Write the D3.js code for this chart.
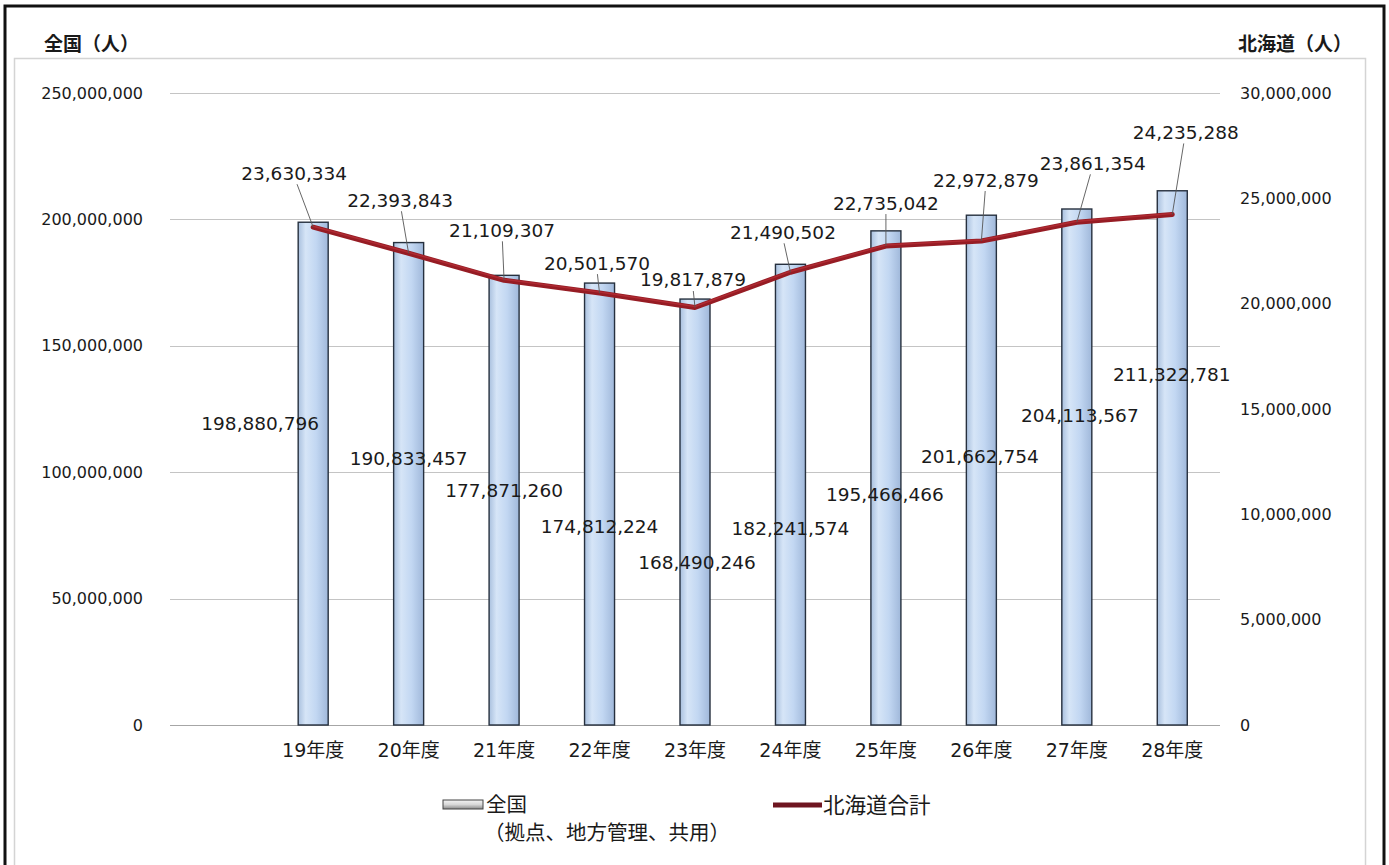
<!DOCTYPE html>
<html><head><meta charset="utf-8">
<script src="https://cdn.jsdelivr.net/npm/d3@7"></script>
<style>
html,body{margin:0;padding:0;background:#fff;}
svg{display:block;}
text{font-family:"DejaVu Sans","Noto Sans CJK JP",sans-serif;fill:#1a1a1a;}
.cjk{font-family:"Noto Sans CJK JP","DejaVu Sans",sans-serif;}
</style></head>
<body>
<svg id="chart" width="1389" height="865"></svg>
<script>
// ---- data ----
const categories = ["19年度","20年度","21年度","22年度","23年度","24年度","25年度","26年度","27年度","28年度"];
const national = [198880796,190833457,177871260,174812224,168490246,182241574,195466466,201662754,204113567,211322781];
const hokkaido = [23630334,22393843,21109307,20501570,19817879,21490502,22735042,22972879,23861354,24235288];
const leftTicks = [0,50000000,100000000,150000000,200000000,250000000];
const rightTicks = [0,5000000,10000000,15000000,20000000,25000000,30000000];
const leftTitle = "全国（人）";
const rightTitle = "北海道（人）";
const legendBar = ["全国","（拠点、地方管理、共用）"];
const legendLine = "北海道合計";

// label placement offsets (layout, px) relative to data point
const natLabelDx = [-53,0,0,0,2,0,-1,-1.5,3,-0.5];
const natLabelDy = [201,216,215,243,263,264,264,241,207,184];
const hokLabelDx = [-19,-8.5,-2,-2.5,-2,-7.5,0,4.5,16,13.5];
const hokLabelDy = [-54,-53,-50,-30,-27.5,-40,-43,-61,-59,-82];

const svg = d3.select("#chart");
const fmt = d3.format(",");

// frames
svg.append("rect").attr("x",5).attr("y",6).attr("width",1379).attr("height",870)
  .attr("fill","none").attr("stroke","#111").attr("stroke-width",3);
svg.append("rect").attr("x",14.5).attr("y",58.5).attr("width",1351).attr("height",820)
  .attr("fill","#fff").attr("stroke","#d4d4d4").attr("stroke-width",1.5);

const plotL = 170, plotR = 1220, yTop = 93, yBot = 725;
const x = d3.scaleBand().domain(["_blank", ...categories]).range([plotL, plotR]).padding(0);
const yL = d3.scaleLinear().domain([0,250000000]).range([yBot, yTop]);
const yR = d3.scaleLinear().domain([0,30000000]).range([yBot, yTop]);
const cx = c => x(c) + x.bandwidth()/2;

// gradients
const defs = svg.append("defs");
const g1 = defs.append("linearGradient").attr("id","barGrad").attr("x1","0").attr("x2","1").attr("y1","0").attr("y2","0");
[["0%","#a9c0de"],["25%","#d6e5f7"],["60%","#c2d7f2"],["100%","#a0b8da"]].forEach(s=>g1.append("stop").attr("offset",s[0]).attr("stop-color",s[1]));
const g2 = defs.append("linearGradient").attr("id","legGrad").attr("x1","0").attr("x2","0").attr("y1","0").attr("y2","1");
[["0%","#f4f4f4"],["50%","#d8d8d8"],["100%","#8a8a8a"]].forEach(s=>g2.append("stop").attr("offset",s[0]).attr("stop-color",s[1]));

// gridlines
svg.append("g").selectAll("line").data(leftTicks).join("line")
  .attr("x1",plotL).attr("x2",plotR)
  .attr("y1",d=>Math.round(yL(d))+0.5).attr("y2",d=>Math.round(yL(d))+0.5)
  .attr("stroke",d=>d===0?"#a6a6a6":"#c4c4c4").attr("stroke-width",1);

// left axis
const axL = d3.axisLeft(yL).tickValues(leftTicks).tickFormat(fmt).tickSize(0).tickPadding(0);
const gL = svg.append("g").attr("transform",`translate(143,0)`).call(axL);
gL.select(".domain").remove();
gL.selectAll("text").attr("font-size",16).attr("font-family","DejaVu Sans").attr("fill","#222");

// right axis
const axR = d3.axisRight(yR).tickValues(rightTicks).tickFormat(fmt).tickSize(0).tickPadding(0);
const gR = svg.append("g").attr("transform",`translate(1240,0)`).call(axR);
gR.select(".domain").remove();
gR.selectAll("text").attr("font-size",16).attr("font-family","DejaVu Sans").attr("fill","#222");

// bottom axis
const axB = d3.axisBottom(x).tickValues(categories).tickSize(0).tickPadding(0);
const gB = svg.append("g").attr("transform",`translate(0,${yBot+18})`).call(axB);
gB.select(".domain").remove();
gB.selectAll("text").attr("font-size",19).attr("dy","0.71em").attr("fill","#222");

// axis titles
svg.append("text").attr("x",44).attr("y",51).attr("font-size",19).attr("font-weight","bold").attr("class","cjk").text(leftTitle);
svg.append("text").attr("x",1352).attr("y",51).attr("text-anchor","end").attr("font-size",19).attr("font-weight","bold").attr("class","cjk").text(rightTitle);

// bars
const barW = 30;
svg.append("g").selectAll("rect").data(national).join("rect")
  .attr("x",(d,i)=>cx(categories[i]) - barW/2)
  .attr("y",d=>yL(d))
  .attr("width",barW)
  .attr("height",d=>yBot - yL(d))
  .attr("fill","url(#barGrad)")
  .attr("stroke","#26303e").attr("stroke-width",1.4);

// line
const line = d3.line().x((d,i)=>cx(categories[i])).y(d=>yR(d));
svg.append("path").datum(hokkaido).attr("d",line)
  .attr("fill","none").attr("stroke","#961c24").attr("stroke-width",5)
  .attr("stroke-linejoin","round").attr("stroke-linecap","round");
svg.append("path").datum(hokkaido).attr("d",line)
  .attr("fill","none").attr("stroke","#c0343c").attr("stroke-width",1.5)
  .attr("stroke-linejoin","round").attr("transform","translate(0,-1)").attr("opacity",0.6);

// hokkaido labels + leader lines
const hl = svg.append("g");
hokkaido.forEach((v,i)=>{
  const px = cx(categories[i]), py = yR(v);
  const lx = px + hokLabelDx[i], ly = py + hokLabelDy[i];
  hl.append("line").attr("x1",lx+ (px-lx)*0.15).attr("y1",ly+11).attr("x2",px).attr("y2",py)
    .attr("stroke","#555").attr("stroke-width",0.9);
  hl.append("text").attr("x",lx).attr("y",ly).attr("dy","0.35em").attr("text-anchor","middle")
    .attr("font-size",18.5).text(fmt(v));
});

// national labels
const nl = svg.append("g");
national.forEach((v,i)=>{
  const px = cx(categories[i]), py = yL(v);
  nl.append("text").attr("x",px+natLabelDx[i]).attr("y",py+natLabelDy[i]).attr("dy","0.35em")
    .attr("text-anchor","middle").attr("font-size",18.5).text(fmt(v));
});

// legend
const lg = svg.append("g");
lg.append("rect").attr("x",443).attr("y",800).attr("width",40).attr("height",9)
  .attr("fill","url(#legGrad)").attr("stroke","#444").attr("stroke-width",1);
lg.append("text").attr("x",486).attr("y",805).attr("dy","0.35em").attr("font-size",20.5).attr("class","cjk").text(legendBar[0]);
lg.append("text").attr("x",484).attr("y",833).attr("dy","0.35em").attr("font-size",20.5).attr("class","cjk").text(legendBar[1]);
lg.append("line").attr("x1",773).attr("x2",822).attr("y1",805).attr("y2",805)
  .attr("stroke","#6e1520").attr("stroke-width",5);
lg.append("text").attr("x",823).attr("y",805).attr("dy","0.35em").attr("font-size",21.5).attr("class","cjk").text(legendLine);
</script>
</body></html>
